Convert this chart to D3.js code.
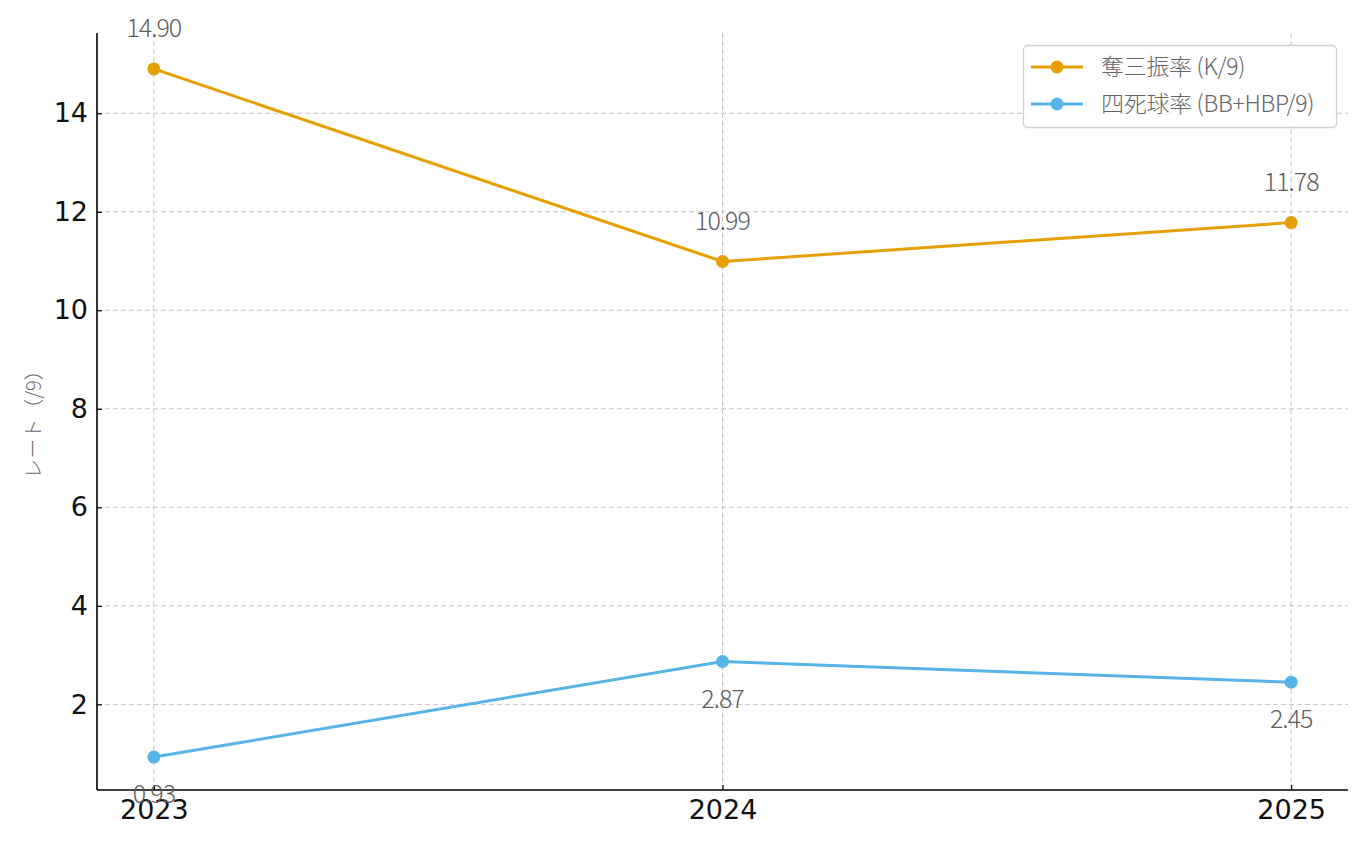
<!DOCTYPE html>
<html><head><meta charset="utf-8">
<script src="https://cdn.jsdelivr.net/npm/d3@7"></script>
<style>body{margin:0;background:#fff}</style>
</head><body>
<svg id="c" width="1366" height="845"></svg>
<script>
const years = [2023, 2024, 2025];
const kRate = [14.90, 10.99, 11.78];
const bbRate = [0.93, 2.87, 2.45];
const yTicks = [2, 4, 6, 8, 10, 12, 14];
const seriesNames = ["奪三振率 (K/9)", "四死球率 (BB+HBP/9)"];
const yLabel = "レート（/9）";

const svg = d3.select("#c");
const L = 97, R = 1348, T = 33, B = 790;
const x = d3.scaleLinear().domain([2023 - 0.1, 2025 + 0.1]).range([L, R]);
const yMin = 0.93 - 0.05 * (14.90 - 0.93), yMax = 14.90 + 0.05 * (14.90 - 0.93);
const y = d3.scaleLinear().domain([yMin, yMax]).range([B + 1.5, T + 1.5]);

const grid = svg.append("g");
yTicks.forEach(t => grid.append("line").attr("x1", L).attr("x2", R).attr("y1", y(t)).attr("y2", y(t))
  .attr("stroke", "#c4c4c4").attr("stroke-width", 1).attr("stroke-dasharray", "5,3"));
years.forEach(t => grid.append("line").attr("x1", x(t)).attr("x2", x(t)).attr("y1", T).attr("y2", B)
  .attr("stroke", "#c4c4c4").attr("stroke-width", 1).attr("stroke-dasharray", "5,3"));

const font = "DejaVu Sans";
const yAxis = d3.axisLeft(y).tickValues(yTicks).tickSize(-5).tickPadding(9).tickFormat(d3.format("d"));
const gy = svg.append("g").attr("transform", `translate(${L},0)`).call(yAxis);
const xAxis = d3.axisBottom(x).tickValues(years).tickSize(-5).tickPadding(10).tickFormat(d3.format("d"));
const gx = svg.append("g").attr("transform", `translate(0,${B})`).call(xAxis);
[gx, gy].forEach(g => {
  g.select(".domain").attr("stroke", "#000").attr("stroke-width", 1.6);
  g.selectAll(".tick line").attr("stroke", "#000").attr("stroke-width", 1.2);
  g.selectAll(".tick text").attr("font-family", font).attr("font-size", 27).attr("fill", "#111");
});
gy.select(".domain").attr("d", `M0,${T}V${B}`);
gx.select(".domain").attr("d", `M${L},0H${R}`);
gx.selectAll(".tick text").attr("dy", "0.72em");

svg.append("text").attr("transform", `translate(41,${(T+B)/2 + 8}) rotate(-90)`).attr("text-anchor", "middle")
  .attr("font-family", "Noto Sans CJK JP").attr("font-weight", 300).attr("font-size", 20).attr("fill", "#6a6a6a")
  .text(yLabel);

const colors = ["#E69F00", "#56B4E9"];
const data = [kRate, bbRate];
const line = d3.line().x((d, i) => x(years[i])).y(d => y(d));
data.forEach((s, si) => {
  svg.append("path").datum(s).attr("d", line).attr("fill", "none").attr("stroke", colors[si]).attr("stroke-width", 3);
  svg.selectAll(null).data(s).enter().append("circle").attr("cx", (d, i) => x(years[i])).attr("cy", d => y(d))
    .attr("r", 6.5).attr("fill", colors[si]);
  svg.selectAll(null).data(s).enter().append("text")
    .attr("x", (d, i) => x(years[i])).attr("y", d => si === 0 ? y(d) - 32 : y(d) + 46)
    .attr("text-anchor", "middle").attr("font-family", "Noto Sans CJK JP").attr("font-weight", 300)
    .attr("font-size", 25).attr("fill", "#5e5e5e").attr("letter-spacing", -1)
    .text(d => d.toFixed(2));
});

// legend
const lg = svg.append("g");
lg.append("rect").attr("x", 1023.5).attr("y", 45.5).attr("width", 313).attr("height", 82).attr("rx", 4)
  .attr("fill", "rgba(255,255,255,0.85)").attr("stroke", "#d0d0d0").attr("stroke-width", 1.3);
seriesNames.forEach((n, i) => {
  const cy = 67 + i * 37;
  lg.append("line").attr("x1", 1031).attr("x2", 1083).attr("y1", cy).attr("y2", cy).attr("stroke", colors[i]).attr("stroke-width", 3);
  lg.append("circle").attr("cx", 1057).attr("cy", cy).attr("r", 6.5).attr("fill", colors[i]);
  lg.append("text").attr("x", 1101).attr("y", cy).attr("dy", "0.35em").attr("font-family", "Noto Sans CJK JP")
    .attr("font-weight", 300).attr("font-size", 23).attr("fill", "#666").attr("letter-spacing", -0.3).text(n);
});
</script>
</body></html>
